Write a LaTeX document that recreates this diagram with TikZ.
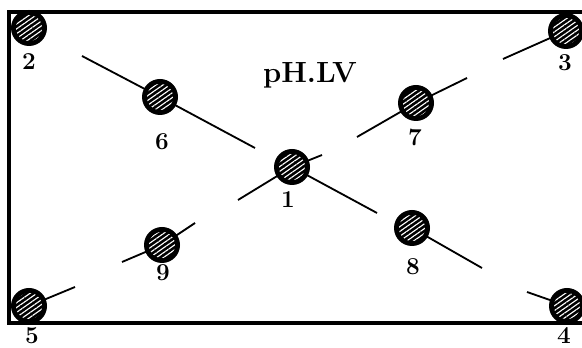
\documentclass[tikz,border=0pt]{standalone}
\usepackage{amsmath,amssymb}
\usetikzlibrary{positioning,patterns.meta}

\tikzset{
  atom/.style={circle, inner sep=0pt, minimum size=0.78cm, fill=black,
    postaction={pattern={Lines[angle=35,distance=2.8pt,line width=0.8pt]}, pattern color=white},
    postaction={draw=black, line width=3.4pt}},
  bond/.style={line width=1.3pt},
  num/.style={font=\LARGE\bfseries}
}

\begin{document}
\begin{tikzpicture}[scale=1]
    \useasboundingbox (0,0) rectangle (14.55,8.7);
    \draw[line width=2.2pt] (14.55,8.4) -- (0.225,8.4) -- (0.225,0.625) -- (14.55,0.625);
    \coordinate (a1) at (7.3,4.525);
    \coordinate (a2) at (0.725,8.0);
    \coordinate (a3) at (14.15,7.925);
    \coordinate (a4) at (14.175,1.05);
    \coordinate (a5) at (0.725,1.05);
    \coordinate (a6) at (4.0,6.275);
    \coordinate (a7) at (10.4,6.125);
    \coordinate (a8) at (10.3,3.0);
    \coordinate (a9) at (4.05,2.575);
    \coordinate (e5) at (1.875,1.525);
    \coordinate (e9a) at (3.05,2.15);
    \coordinate (e9b) at (4.875,3.125);
    \coordinate (e1a) at (5.95,3.7);
    \coordinate (e1b) at (8.05,4.825);
    \coordinate (e7a) at (8.925,5.275);
    \coordinate (e7b) at (11.675,6.75);
    \coordinate (e3) at (12.575,7.225);
    \coordinate (e6a) at (2.05,7.3);
    \coordinate (e6b) at (6.375,5.0);
    \coordinate (e1c) at (9.425,3.375);
    \coordinate (e8) at (12.05,2.0);
    \coordinate (e4) at (13.175,1.4);
    \draw[bond] (a5) -- (e5);
    \draw[bond] (e9a) -- (a9) -- (e9b);
    \draw[bond] (e1a) -- (a1) -- (e1b);
    \draw[bond] (e7a) -- (a7) -- (e7b);
    \draw[bond] (e3) -- (a3);
    \draw[bond] (e6a) -- (a6) -- (e6b);
    \draw[bond] (a1) -- (e1c);
    \draw[bond] (a8) -- (e8);
    \draw[bond] (e4) -- (a4);
    \foreach \i in {1,...,9}
      \node[atom] (n\i) at (a\i) {};
    \node[num] (l1) at (7.2,3.7) {1};
    \node[num] (l2) at (0.725,7.15) {2};
    \node[num] (l3) at (14.125,7.125) {3};
    \node[num] (l4) at (14.1,0.3) {4};
    \node[num] (l5) at (0.8,0.3) {5};
    \node[num] (l6) at (4.05,5.15) {6};
    \node[num] (l7) at (10.375,5.275) {7};
    \node[num] (l8) at (10.325,2.025) {8};
    \node[num] (l9) at (4.075,1.875) {9};
    \node[font=\huge\bfseries] (title) at (7.75,6.825) {pH.LV};
\end{tikzpicture}
\end{document}
